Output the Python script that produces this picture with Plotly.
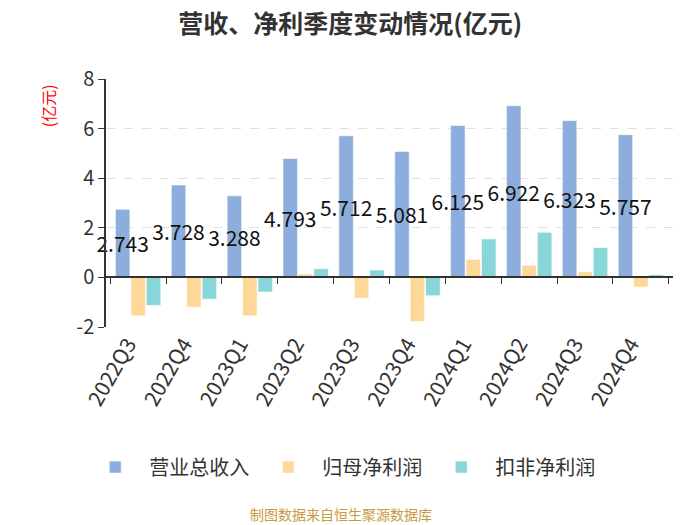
import plotly.graph_objects as go

# quarterly data (亿元)
quarters = ['2022Q3', '2022Q4', '2023Q1', '2023Q2', '2023Q3',
            '2023Q4', '2024Q1', '2024Q2', '2024Q3', '2024Q4']
revenue = [2.743, 3.728, 3.288, 4.793, 5.712, 5.081, 6.125, 6.922, 6.323, 5.757]
net_profit = [-1.55, -1.20, -1.55, 0.14, -0.84, -1.78, 0.73, 0.49, 0.23, -0.39]
net_profit_deducted = [-1.13, -0.88, -0.59, 0.35, 0.30, -0.74, 1.55, 1.82, 1.20, 0.11]

y_ticks = [-2, 0, 2, 4, 6, 8]
y_tick_labels = ['-2', '0', '2', '4', '6', '8']

series_names = ['营业总收入', '归母净利润', '扣非净利润']
colors = ['#8daedc', '#fdd898', '#88d6d8']
font_cjk = 'Noto Sans CJK SC, Noto Sans, sans-serif'

fig = go.Figure()

fig.add_trace(go.Bar(
    x=quarters, y=revenue, name=series_names[0],
    marker=dict(color=colors[0], line=dict(color='rgba(255,255,255,0.6)', width=1)),
    text=[f'{v:.3f}' for v in revenue],
    textposition='inside', insidetextanchor='middle', constraintext='none',
    textangle=0,
    textfont=dict(size=21, color='#111', family=font_cjk),
    cliponaxis=False,
))
fig.add_trace(go.Bar(
    x=quarters, y=net_profit, name=series_names[1],
    marker=dict(color=colors[1], line=dict(color='rgba(255,255,255,0.6)', width=1)),
))
fig.add_trace(go.Bar(
    x=quarters, y=net_profit_deducted, name=series_names[2],
    marker=dict(color=colors[2], line=dict(color='rgba(255,255,255,0.6)', width=1)),
))

# invisible trace so the second x axis (drawn at y=0) gets the categories
fig.add_trace(go.Scatter(x=quarters, y=[None] * len(quarters), xaxis='x2',
                         showlegend=False, hoverinfo='skip'))

# the page body adds 8px on top/left, margins are set with that in mind
fig.update_layout(
    width=700, height=525,
    margin=dict(l=98, r=35, t=71, b=206),
    paper_bgcolor='white', plot_bgcolor='white',
    barmode='group', bargap=0.17, bargroupgap=0.06,
    title=dict(text='<b>营收、净利季度变动情况(亿元)</b>', x=0.489, xanchor='center',
               y=0.97, yanchor='middle', yref='container',
               font=dict(size=25, color='#333', family=font_cjk)),
    font=dict(family=font_cjk, color='#333'),
    xaxis=dict(type='category', showline=False, ticks='', showgrid=False,
               tickangle=-60, ticklabelshift=-10,
               tickfont=dict(size=21, color='#333')),
    xaxis2=dict(type='category', overlaying='x', matches='x', anchor='free',
                position=0.2, showline=True, linecolor='#333', linewidth=1.5,
                ticks='outside', tickson='boundaries', ticklen=6, tickcolor='#333',
                showticklabels=False, showgrid=False),
    yaxis=dict(range=[-2, 8], tickvals=y_ticks, ticktext=y_tick_labels,
               showline=True, linecolor='#333', linewidth=1.5,
               ticks='outside', ticklen=6, tickcolor='#333',
               tickfont=dict(size=20, color='#333'),
               showgrid=True, gridcolor='#e0e0e0', griddash='dash', gridwidth=1,
               zeroline=False),
    legend=dict(orientation='h', x=0.414, xanchor='center',
                y=-0.565, yanchor='middle',
                font=dict(size=20, color='#333'), itemwidth=58,
                traceorder='normal'),
    showlegend=True,
)

fig.add_annotation(text='(亿元)', textangle=-90, xref='paper', yref='paper',
                   x=-0.102, y=0.891, xanchor='center', yanchor='middle',
                   showarrow=False,
                   font=dict(size=16, color='red', family=font_cjk))
fig.add_annotation(text='制图数据来自恒生聚源数据库', xref='paper', yref='paper',
                   x=0.414, y=-0.755, xanchor='center', yanchor='middle', showarrow=False,
                   font=dict(size=14, color='#c89b40', family=font_cjk))

fig.write_html('out.html')
